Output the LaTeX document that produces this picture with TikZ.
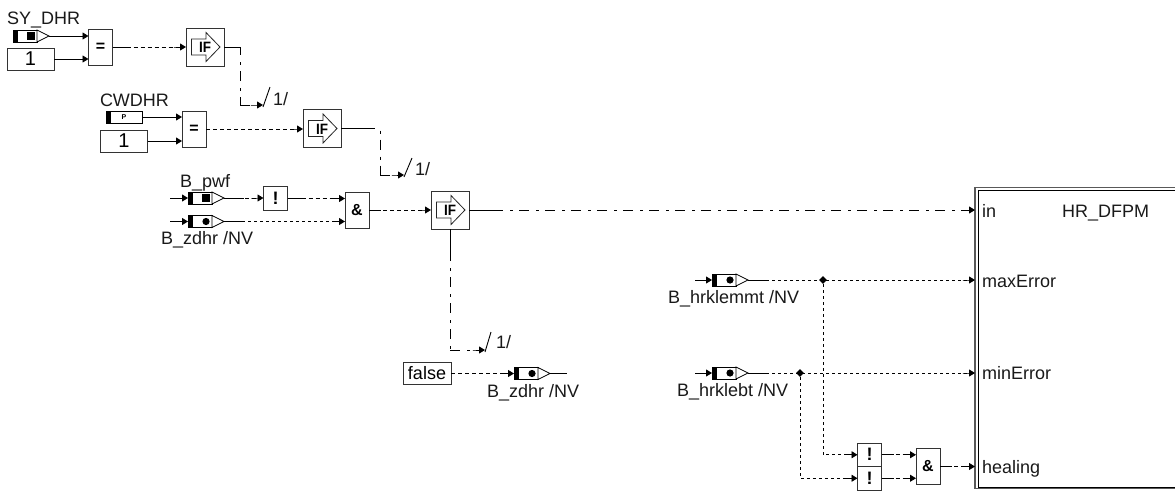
\documentclass[tikz,border=0pt]{standalone}
\usepackage{fontspec}
\setmainfont{Liberation Sans}
\usetikzlibrary{arrows.meta,shapes.geometric,calc}
\tikzset{
  lab/.style={anchor=base west,inner sep=0pt,outer sep=0pt,font=\fontsize{18}{20}\selectfont,text=black!90},
  boxn/.style={draw=black!80,line width=0.9pt,fill=white,inner sep=0pt,outer sep=0pt,font=\fontsize{18}{20}\selectfont},
  opbox/.style={boxn,minimum width=24pt,minimum height=36pt,font=\fontsize{16}{16}\bfseries\selectfont},
  notbox/.style={boxn,minimum width=24pt,minimum height=23.5pt,font=\fontsize{18}{16}\bfseries\selectfont},
  valbox/.style={boxn,minimum width=47pt,minimum height=22pt,font=\fontsize{20}{20}\selectfont},
  ifb/.style={boxn,minimum width=38pt,minimum height=38pt},
  wire/.style={line width=0.9pt,draw=black},
  arr/.style={wire,-{Rectangle[length=7pt,width=0.9pt,sep=-0.5pt]Triangle[length=6pt,width=7pt]}},
  shortd/.style={dash pattern=on 4pt off 3pt},
  dotd/.style={dash pattern=on 3pt off 3pt},
  dashdot/.style={dash pattern=on 10pt off 7pt on 3pt off 6pt},
  junc/.style={diamond,fill=black,inner sep=0pt,minimum size=8pt},
}
\newcommand{\sigicon}[4]{%
  \node[draw=black,line width=0.9pt,fill=white,inner sep=0pt,outer sep=0pt,minimum width=24pt,minimum height=12pt,anchor=west] (#1) at (#2,#3) {};
  \fill[black] (#1.north west) rectangle ($(#1.south west)+(5,0)$);
  \draw[line width=0.7pt,fill=white] (#1.north east) -- ($(#1.east)+(12,0)$) coordinate (#1-tip) -- (#1.south east) -- cycle;
  #4{#1}%
}
\newcommand{\mksq}[1]{\fill[black] ($(#1.center)+(2,-4)$) rectangle ($(#1.center)+(10,4)$);}
\newcommand{\mkdot}[1]{\fill[black] ($(#1.center)+(6,0)$) circle (3.6);}
\newcommand{\ifblock}[3]{%
  \node[ifb] (#1) at (#2,#3) {};
  \draw[line width=0.8pt,draw=black!85] ($(#1.center)+(-13.5,-8)$) -- ($(#1.center)+(1,-8)$) -- ($(#1.center)+(1,-14.5)$) -- ($(#1.center)+(15,0)$) -- ($(#1.center)+(1,14.5)$) -- ($(#1.center)+(1,8)$) -- ($(#1.center)+(-13.5,8)$) -- cycle;
  \node[inner sep=0pt,font=\fontsize{15}{16}\bfseries\selectfont,xscale=0.9] at ($(#1.center)+(0,0.5)$) {IF};
}
\begin{document}
\begin{tikzpicture}[x=1pt,y=-1pt]
\useasboundingbox (0,0) rectangle (1175,490);
\clip (0,0) rectangle (1175,490);

% main block
\node[draw=black!65,line width=1.5pt,inner sep=0pt,outer sep=0pt,anchor=north west,minimum width=260pt,minimum height=301pt] (blk) at (975,187.5) {};
\draw[black,line width=0.9pt] (978,190) rectangle (1240,487);
\node[lab] (tin) at (982,217) {in};
\node[lab] (tname) at (1062,217) {HR\_DFPM};
\node[lab] (tmax) at (982,287) {maxError};
\node[lab] (tmin) at (982,379) {minError};
\node[lab] (theal) at (982,473) {healing};

% row 1
\node[lab] (lsy) at (7,24) {SY\_DHR};
\sigicon{sy}{13}{36}{\mksq}
\node[valbox] (one1) at (30.5,59) {1};
\node[opbox] (eq1) at (100.5,47) {=};
\ifblock{if1}{205}{47}
\draw[arr] (sy-tip) -- (sy-tip -| eq1.west);
\draw[arr] (one1.east) -- (one1.east -| eq1.west);
\draw[arr,shortd] (eq1.east) -- (if1.west);
\draw[wire] (eq1.east) -- ++(14,0);
\coordinate (c1a) at (240,47);
\coordinate (c1b) at (240,105);
\coordinate (c1c) at (263,105);
\coordinate (t1a) at (263,107);
\coordinate (t1b) at (270,87);
\draw[wire,dashdot] (if1.east) ++(14,0) -- (c1a) -- (c1b);
\draw[wire] (if1.east) -- (c1a);
\draw[arr,dashdot] (c1b) -- (c1c);
\draw[wire] (t1a) -- (t1b);
\node[lab] (n1) at (273,105) {1/};

% row 2
\node[lab] (lcw) at (100,106) {CWDHR};
\node[draw=black,line width=0.9pt,fill=white,inner sep=0pt,outer sep=0pt,minimum width=36pt,minimum height=12pt,anchor=west] (cw) at (106,117) {};
\fill[black] (cw.north west) rectangle ($(cw.south west)+(5,0)$);
\node[inner sep=0pt,font=\fontsize{7}{7}\bfseries\selectfont] at (cw.center) {P};
\node[valbox] (one2) at (124,141) {1};
\node[opbox] (eq2) at (194,129) {=};
\ifblock{if2}{322}{128.5}
\draw[arr] (cw.east) -- (cw.east -| eq2.west);
\draw[arr] (one2.east) -- (one2.east -| eq2.west);
\draw[arr,shortd] (eq2.east) -- (eq2.east -| if2.west);
\draw[wire] (if2.east) -- ++(24,0);
\coordinate (c2a) at (380,128.5);
\coordinate (c2b) at (380,175);
\coordinate (c2c) at (404,175);
\coordinate (t2a) at (404,177);
\coordinate (t2b) at (412,158);
\draw[wire,dashdot] (if2.east) ++(24,0) -- (c2a) -- (c2b);
\draw[arr,dashdot] (c2b) -- (c2c);
\draw[wire] (t2a) -- (t2b);
\node[lab] (n2) at (415,175) {1/};

% row 3
\node[lab] (lpwf) at (180,187) {B\_pwf};
\sigicon{pwf}{188}{198}{\mksq}
\coordinate (pwfin) at (170,198);
\draw[arr] (pwfin) -- (pwf.west);
\node[notbox] (not1) at (275.5,198.5) {!};
\node[opbox] (and1) at (357,210) {\&};
\ifblock{if3}{450}{210}
\sigicon{zd}{188}{221.5}{\mkdot}
\coordinate (zdin) at (170,221.5);
\draw[arr] (zdin) -- (zd.west);
\node[lab] (lzd) at (161,244) {B\_zdhr /NV};
\draw[wire] (pwf-tip) -- ++(20,0);
\draw[arr,shortd] (pwf-tip) -- (pwf-tip -| not1.west);
\draw[wire] (not1.east) -- ++(14,0);
\draw[arr,shortd] (not1.east) -- ($(and1.west)+(0,-11.5)$);
\draw[wire] (zd-tip) -- ++(20,0);
\draw[arr,dotd] (zd-tip) -- (zd-tip -| and1.west);
\draw[wire] (and1.east) -- ++(12,0);
\draw[arr,shortd] (and1.east) -- (if3.west);

% IF3 to block
\draw[wire] (if3.east) -- ++(24,0);
\draw[arr,dashdot] ($(if3.east)+(24,0)$) -- (if3.east -| blk.west);
\draw[wire] (if3.south) -- ++(0,22);
\coordinate (c3b) at (450,350);
\coordinate (c3c) at (485,350);
\coordinate (t3a) at (485,352);
\coordinate (t3b) at (491,332);
\draw[wire,dashdot] ($(if3.south)+(0,22)$) -- (c3b);
\draw[arr,dashdot] (c3b) -- (c3c);
\draw[wire] (t3a) -- (t3b);
\node[lab] (n3) at (496,348) {1/};

% false
\node[boxn,minimum width=48pt,minimum height=22pt] (fls) at (427,373.5) {false};
\sigicon{zo}{514}{373.5}{\mkdot}
\draw[arr,shortd] (fls.east) -- (zo.west);
\coordinate (zoout) at (567,373.5);
\draw[wire] (zo-tip) -- (zoout);
\node[lab] (lzo) at (487,397) {B\_zdhr /NV};

% hrklemmt
\sigicon{hk}{712}{280}{\mkdot}
\coordinate (hkin) at (695,280);
\draw[arr] (hkin) -- (hk.west);
\node[lab] (lhk) at (668,303) {B\_hrklemmt /NV};
\node[junc] (j1) at (823,280) {};
\draw[wire] (hk-tip) -- ++(20,0);
\draw[arr,dotd] (hk-tip) -- (hk-tip -| blk.west);

% hrklebt
\sigicon{hb}{712}{373}{\mkdot}
\coordinate (hbin) at (695,373);
\draw[arr] (hbin) -- (hb.west);
\node[lab] (lhb) at (677,396) {B\_hrklebt /NV};
\node[junc] (j2) at (800,373) {};
\draw[wire] (hb-tip) -- ++(20,0);
\draw[arr,dotd] (hb-tip) -- (hb-tip -| blk.west);

% healing logic
\node[notbox] (n1b) at (869.5,454.75) {!};
\node[notbox] (n2b) at (869.5,478.25) {!};
\node[opbox] (and2) at (928,466.5) {\&};
\draw[arr,dotd] (j1) -- (j1 |- n1b.west) -- (n1b.west);
\draw[arr,dotd] (j2) -- (j2 |- n2b.west) -- (n2b.west);
\draw[arr,shortd] (n1b.east) -- (n1b.east -| and2.west);
\draw[arr,shortd] (n2b.east) -- (n2b.east -| and2.west);
\draw[wire] (n1b.east) -- ++(12,0);
\draw[wire] (n2b.east) -- ++(12,0);
\draw[arr,shortd] (and2.east) -- (and2.east -| blk.west);
\draw[wire] (and2.east) -- ++(12,0);
\end{tikzpicture}
\end{document}
